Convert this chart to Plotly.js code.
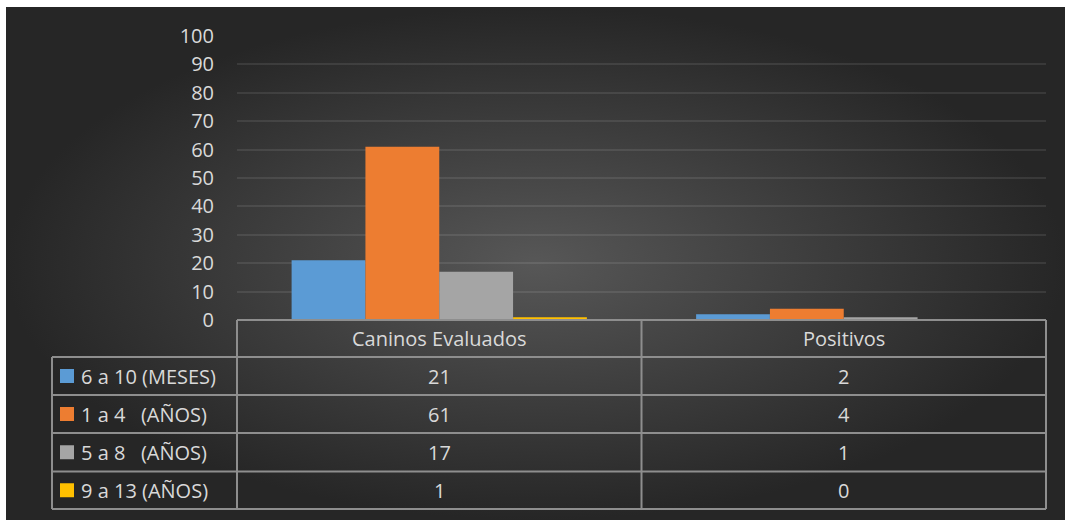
<!DOCTYPE html>
<html>
<head>
<meta charset="utf-8">
<script src="https://cdn.plot.ly/plotly-3.0.1.min.js"></script>
<style>
  html, body { margin: 0; padding: 0; background: #ffffff; }
  #wrap { position: relative; width: 1065px; height: 520px; overflow: hidden; }
  #bg { position: absolute; left: 6px; top: 7px; right: 0; bottom: 0;
        background: radial-gradient(ellipse closest-side at 50% 50%, #575757 0%, #3c3c3c 55%, #262626 100%); }
  #chart { position: absolute; left: 0; top: 0; width: 1065px; height: 520px; }
</style>
</head>
<body>
<div id="wrap"><div id="bg"></div><div id="chart"></div></div>
<script>
// ---- data ----
const categories = ["Caninos Evaluados", "Positivos"];
const seriesNames = ["6 a 10 (MESES)", "1 a 4   (AÑOS)", "5 a 8   (AÑOS)", "9 a 13 (AÑOS)"];
const meses6a10 = [21, 2];
const anos1a4 = [61, 4];
const anos5a8 = [17, 1];
const anos9a13 = [1, 0];
const yTicks = [0, 10, 20, 30, 40, 50, 60, 70, 80, 90, 100];

// ---- style ----
const seriesValues = [meses6a10, anos1a4, anos5a8, anos9a13];
const colors = ["#5b9bd5", "#ed7d31", "#a5a5a5", "#ffc000"];
const textColor = "#d9d9d9";
const fontFamily = "'Open Sans', sans-serif";
const lineColor = "#8e8e8e";

const W = 1065, H = 520;
const mL = 237, mR = 19, mT = 36, mB = 200;
const plotW = W - mL - mR, plotH = H - mT - mB;
const PX = px => (px - mL) / plotW;          // pixel x -> paper
const PY = py => (H - mB - py) / plotH;       // pixel y -> paper

const traces = seriesNames.map((name, i) => ({
  type: "bar",
  name: name,
  x: categories,
  y: seriesValues[i],
  marker: { color: colors[i], line: { width: 0 } },
  hoverinfo: "x+y+name"
}));

// table geometry (pixels)
const rowLines = [357, 395, 433, 471.5, 509];
const tableTop = 320, tableLeft = 52, headerLeft = 237, tableRight = 1046;
const rowCenters = [];
for (let i = 0; i < rowLines.length - 1; i++) rowCenters.push((rowLines[i] + rowLines[i + 1]) / 2);
const headerCenter = (tableTop + rowLines[0]) / 2;

const shapes = [];
const ln = { color: lineColor, width: 2 };
// header top line
shapes.push({ type: "line", xref: "paper", yref: "paper", x0: PX(headerLeft), x1: PX(tableRight), y0: PY(tableTop), y1: PY(tableTop), line: ln });
// row lines
rowLines.forEach(r => shapes.push({ type: "line", xref: "paper", yref: "paper", x0: PX(tableLeft), x1: PX(tableRight), y0: PY(r), y1: PY(r), line: ln }));
// verticals
shapes.push({ type: "line", xref: "paper", yref: "paper", x0: PX(tableLeft), x1: PX(tableLeft), y0: PY(rowLines[0]), y1: PY(rowLines[rowLines.length - 1]), line: ln });
shapes.push({ type: "line", xref: "paper", yref: "paper", x0: PX(headerLeft), x1: PX(headerLeft), y0: PY(tableTop), y1: PY(rowLines[rowLines.length - 1]), line: ln });
shapes.push({ type: "line", xref: "paper", yref: "paper", x0: PX(tableRight), x1: PX(tableRight), y0: PY(tableTop), y1: PY(rowLines[rowLines.length - 1]), line: ln });
for (let c = 0; c < categories.length - 1; c++) {
  shapes.push({ type: "line", xref: "x", yref: "paper", x0: c + 0.5, x1: c + 0.5, y0: PY(tableTop), y1: PY(rowLines[rowLines.length - 1]), line: ln });
}
// legend keys
seriesNames.forEach((n, i) => {
  const cy = rowCenters[i];
  shapes.push({ type: "rect", xref: "paper", yref: "paper", x0: PX(60), x1: PX(74), y0: PY(cy - 7), y1: PY(cy + 7), fillcolor: colors[i], line: { width: 0 } });
});

const annotations = [];
const tfont = { family: fontFamily, size: 20, color: textColor };
categories.forEach((c, j) => {
  annotations.push({ xref: "x", yref: "paper", x: j, y: PY(headerCenter), text: c, showarrow: false, xanchor: "center", yanchor: "middle", font: tfont });
});
seriesNames.forEach((n, i) => {
  annotations.push({ xref: "paper", yref: "paper", x: PX(79), y: PY(rowCenters[i]), text: n.replace(/ {2,}/g, m => " " + "\u00a0".repeat(m.length - 1)), showarrow: false, xanchor: "left", yanchor: "middle", font: tfont });
  categories.forEach((c, j) => {
    annotations.push({ xref: "x", yref: "paper", x: j, y: PY(rowCenters[i]), text: String(seriesValues[i][j]), showarrow: false, xanchor: "center", yanchor: "middle", font: tfont });
  });
});

const layout = {
  width: W, height: H,
  margin: { l: mL, r: mR, t: mT, b: mB, pad: 0 },
  paper_bgcolor: "rgba(0,0,0,0)",
  plot_bgcolor: "rgba(0,0,0,0)",
  barmode: "group",
  bargap: 0.27,
  bargroupgap: 0,
  showlegend: false,
  font: { family: fontFamily, size: 20, color: textColor },
  xaxis: { showticklabels: false, showgrid: false, zeroline: false, showline: false, ticks: "", fixedrange: true },
  yaxis: {
    range: [0, 100], tickvals: yTicks, ticktext: yTicks.map(String),
    showgrid: true, gridcolor: "rgba(255,255,255,0.09)", gridwidth: 2,
    zeroline: false, showline: false, ticks: "",
    ticklabelstandoff: 22,
    tickfont: { family: fontFamily, size: 20, color: textColor },
    fixedrange: true
  },
  shapes: shapes,
  annotations: annotations
};

Plotly.newPlot("chart", traces, layout, { displayModeBar: false, staticPlot: true });
</script>
</body>
</html>
